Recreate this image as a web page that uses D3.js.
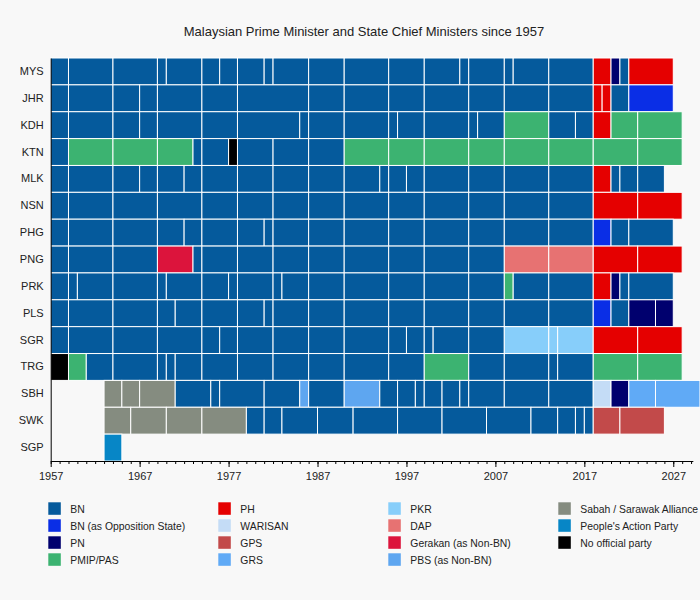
<!DOCTYPE html>
<html>
<head>
<meta charset="utf-8">
<script src="https://cdn.jsdelivr.net/npm/d3@7"></script>
<style>
  body { margin: 0; background: #f8f8f8; }
  text { font-family: "Liberation Sans", Arial, sans-serif; fill: #222; }
</style>
</head>
<body>
<div id="chart"></div>
<script>
// states, top to bottom
var states = ["MYS", "JHR", "KDH", "KTN", "MLK", "NSN", "PHG", "PNG", "PRK", "PLS", "SGR", "TRG", "SBH", "SWK", "SGP"];

// parties + colours (legend order, column by column)
var parties = ["BN", "BN (as Opposition State)", "PN", "PMIP/PAS",
               "PH", "WARISAN", "GPS", "GRS",
               "PKR", "DAP", "Gerakan (as Non-BN)", "PBS (as Non-BN)",
               "Sabah / Sarawak Alliance", "People's Action Party", "No official party"];
var partyColors = ["#055a9c", "#0a2ee6", "#00006e", "#3cb371",
                   "#e50000", "#c4dcf6", "#c24a4a", "#60aaf6",
                   "#87cefa", "#e77272", "#dc143c", "#5ea6f0",
                   "#858c80", "#0786c6", "#000000"];

// terms: [start, end, party]
var MYS = [[1957,1959,"BN"],[1959,1964,"BN"],[1964,1969,"BN"],[1969,1970,"BN"],[1970,1974,"BN"],[1974,1976,"BN"],
  [1976,1978,"BN"],[1978,1981,"BN"],[1981,1982,"BN"],[1982,1986,"BN"],[1986,1990,"BN"],[1990,1995,"BN"],
  [1995,1999,"BN"],[1999,2003,"BN"],[2003,2004,"BN"],[2004,2008,"BN"],[2008,2009,"BN"],[2009,2013,"BN"],
  [2013,2018,"BN"],[2018,2020,"PH"],[2020,2021,"PN"],[2021,2022,"BN"],[2022,2027,"PH"]];
var JHR = [[1957,1959,"BN"],[1959,1964,"BN"],[1964,1967,"BN"],[1967,1969,"BN"],[1969,1974,"BN"],[1974,1978,"BN"],
  [1978,1986,"BN"],[1986,1990,"BN"],[1990,1995,"BN"],[1995,1999,"BN"],[1999,2004,"BN"],[2004,2008,"BN"],
  [2008,2013,"BN"],[2013,2018,"BN"],[2018,2019,"PH"],[2019,2020,"PH"],[2020,2022,"BN"],[2022,2027,"BN (as Opposition State)"]];
var KDH = [[1957,1959,"BN"],[1959,1964,"BN"],[1964,1967,"BN"],[1967,1969,"BN"],[1969,1974,"BN"],[1974,1978,"BN"],
  [1978,1985,"BN"],[1985,1986,"BN"],[1986,1990,"BN"],[1990,1995,"BN"],[1995,1996,"BN"],[1996,1999,"BN"],
  [1999,2004,"BN"],[2004,2005,"BN"],[2005,2008,"BN"],[2008,2013,"PMIP/PAS"],[2013,2016,"BN"],[2016,2018,"BN"],
  [2018,2020,"PH"],[2020,2023,"PMIP/PAS"],[2023,2028,"PMIP/PAS"]];
var KTN = [[1957,1959,"BN"],[1959,1964,"PMIP/PAS"],[1964,1969,"PMIP/PAS"],[1969,1973,"PMIP/PAS"],[1973,1974,"BN"],
  [1974,1977,"BN"],[1977,1978,"No official party"],[1978,1982,"BN"],[1982,1986,"BN"],[1986,1990,"BN"],
  [1990,1995,"PMIP/PAS"],[1995,1999,"PMIP/PAS"],[1999,2004,"PMIP/PAS"],[2004,2008,"PMIP/PAS"],[2008,2013,"PMIP/PAS"],
  [2013,2018,"PMIP/PAS"],[2018,2023,"PMIP/PAS"],[2023,2028,"PMIP/PAS"]];
var MLK = [[1957,1959,"BN"],[1959,1964,"BN"],[1964,1967,"BN"],[1967,1969,"BN"],[1969,1972,"BN"],[1972,1974,"BN"],
  [1974,1978,"BN"],[1978,1982,"BN"],[1982,1986,"BN"],[1986,1990,"BN"],[1990,1994,"BN"],[1994,1995,"BN"],
  [1995,1997,"BN"],[1997,1999,"BN"],[1999,2004,"BN"],[2004,2008,"BN"],[2008,2013,"BN"],[2013,2018,"BN"],
  [2018,2020,"PH"],[2020,2021,"BN"],[2021,2023,"BN"],[2023,2026,"BN"]];
var NSN = [[1957,1959,"BN"],[1959,1964,"BN"],[1964,1969,"BN"],[1969,1974,"BN"],[1974,1978,"BN"],[1978,1982,"BN"],
  [1982,1986,"BN"],[1986,1990,"BN"],[1990,1995,"BN"],[1995,1999,"BN"],[1999,2004,"BN"],[2004,2008,"BN"],
  [2008,2013,"BN"],[2013,2018,"BN"],[2018,2023,"PH"],[2023,2028,"PH"]];
var PHG = [[1957,1959,"BN"],[1959,1964,"BN"],[1964,1969,"BN"],[1969,1972,"BN"],[1972,1974,"BN"],[1974,1978,"BN"],
  [1978,1981,"BN"],[1981,1982,"BN"],[1982,1986,"BN"],[1986,1990,"BN"],[1990,1995,"BN"],[1995,1999,"BN"],
  [1999,2004,"BN"],[2004,2008,"BN"],[2008,2013,"BN"],[2013,2018,"BN"],[2018,2020,"BN (as Opposition State)"],
  [2020,2022,"BN"],[2022,2027,"BN"]];
var PNG = [[1957,1959,"BN"],[1959,1964,"BN"],[1964,1969,"BN"],[1969,1973,"Gerakan (as Non-BN)"],[1973,1974,"BN"],
  [1974,1978,"BN"],[1978,1982,"BN"],[1982,1986,"BN"],[1986,1990,"BN"],[1990,1995,"BN"],[1995,1999,"BN"],
  [1999,2004,"BN"],[2004,2008,"BN"],[2008,2013,"DAP"],[2013,2018,"DAP"],[2018,2023,"PH"],[2023,2028,"PH"]];
var PRK = [[1957,1959,"BN"],[1959,1960,"BN"],[1960,1964,"BN"],[1964,1969,"BN"],[1969,1970,"BN"],[1970,1974,"BN"],
  [1974,1977,"BN"],[1977,1978,"BN"],[1978,1982,"BN"],[1982,1983,"BN"],[1983,1986,"BN"],[1986,1990,"BN"],
  [1990,1995,"BN"],[1995,1999,"BN"],[1999,2004,"BN"],[2004,2008,"BN"],[2008,2009,"PMIP/PAS"],[2009,2013,"BN"],
  [2013,2018,"BN"],[2018,2020,"PH"],[2020,2021,"PN"],[2021,2022,"BN"],[2022,2027,"BN"]];
var PLS = [[1957,1959,"BN"],[1959,1964,"BN"],[1964,1969,"BN"],[1969,1971,"BN"],[1971,1974,"BN"],[1974,1978,"BN"],
  [1978,1981,"BN"],[1981,1982,"BN"],[1982,1986,"BN"],[1986,1990,"BN"],[1990,1995,"BN"],[1995,1999,"BN"],
  [1999,2004,"BN"],[2004,2008,"BN"],[2008,2013,"BN"],[2013,2018,"BN"],[2018,2020,"BN (as Opposition State)"],
  [2020,2022,"BN"],[2022,2025,"PN"],[2025,2027,"PN"]];
var SGR = [[1957,1959,"BN"],[1959,1964,"BN"],[1964,1969,"BN"],[1969,1974,"BN"],[1974,1976,"BN"],[1976,1978,"BN"],
  [1978,1982,"BN"],[1982,1986,"BN"],[1986,1990,"BN"],[1990,1995,"BN"],[1995,1997,"BN"],[1997,1999,"BN"],
  [1999,2000,"BN"],[2000,2004,"BN"],[2004,2008,"BN"],[2008,2013,"PKR"],[2013,2014,"PKR"],[2014,2018,"PKR"],
  [2018,2023,"PH"],[2023,2028,"PH"]];
var TRG = [[1957,1959,"No official party"],[1959,1961,"PMIP/PAS"],[1961,1964,"BN"],[1964,1969,"BN"],[1969,1970,"BN"],
  [1970,1971,"BN"],[1971,1974,"BN"],[1974,1978,"BN"],[1978,1982,"BN"],[1982,1986,"BN"],[1986,1990,"BN"],
  [1990,1995,"BN"],[1995,1999,"BN"],[1999,2004,"PMIP/PAS"],[2004,2008,"BN"],[2008,2013,"BN"],[2013,2014,"BN"],
  [2014,2018,"BN"],[2018,2023,"PMIP/PAS"],[2023,2028,"PMIP/PAS"]];
var SBH = [[1963,1965,"Sabah / Sarawak Alliance"],[1965,1967,"Sabah / Sarawak Alliance"],[1967,1971,"Sabah / Sarawak Alliance"],
  [1971,1975,"BN"],[1975,1976,"BN"],[1976,1981,"BN"],[1981,1985,"BN"],[1985,1986,"PBS (as Non-BN)"],[1986,1990,"BN"],
  [1990,1994,"PBS (as Non-BN)"],[1994,1996,"BN"],[1996,1998,"BN"],[1998,1999,"BN"],[1999,2001,"BN"],[2001,2003,"BN"],
  [2003,2004,"BN"],[2004,2008,"BN"],[2008,2013,"BN"],[2013,2018,"BN"],[2018,2020,"WARISAN"],[2020,2022,"PN"],
  [2022,2025,"GRS"],[2025,2030,"GRS"]];
var SWK = [[1963,1966,"Sabah / Sarawak Alliance"],[1966,1970,"Sabah / Sarawak Alliance"],[1970,1974,"Sabah / Sarawak Alliance"],
  [1974,1979,"Sabah / Sarawak Alliance"],[1979,1981,"BN"],[1981,1983,"BN"],[1983,1987,"BN"],[1987,1991,"BN"],
  [1991,1996,"BN"],[1996,2001,"BN"],[2001,2006,"BN"],[2006,2011,"BN"],[2011,2014,"BN"],[2014,2016,"BN"],
  [2016,2017,"BN"],[2017,2018,"BN"],[2018,2021,"GPS"],[2021,2026,"GPS"]];
var SGP = [[1963,1965,"People's Action Party"]];

var terms = {MYS: MYS, JHR: JHR, KDH: KDH, KTN: KTN, MLK: MLK, NSN: NSN, PHG: PHG, PNG: PNG, PRK: PRK,
             PLS: PLS, SGR: SGR, TRG: TRG, SBH: SBH, SWK: SWK, SGP: SGP};

var xTicks = [1957, 1967, 1977, 1987, 1997, 2007, 2017, 2027];

var width = 700, height = 600;
var margin = {top: 58, right: 8, bottom: 139, left: 50.7};

var svg = d3.select("#chart").append("svg")
  .attr("width", width)
  .attr("height", height);

svg.append("rect").attr("width", width).attr("height", height).attr("fill", "#f8f8f8");

var x = d3.scaleLinear()
  .domain([1957, 2029.2])
  .range([margin.left, margin.left + 72.2 * 8.894]);

var y = d3.scaleBand()
  .domain(states)
  .range([margin.top, height - margin.bottom])
  .padding(0);

var color = d3.scaleOrdinal().domain(parties).range(partyColors);

// flatten terms into rows
var rows = [];
states.forEach(function(s) {
  terms[s].forEach(function(t) {
    rows.push({state: s, start: t[0], end: t[1], party: t[2]});
  });
});

svg.append("g").selectAll("rect")
  .data(rows)
  .enter().append("rect")
  .attr("x", function(d) { return x(d.start); })
  .attr("y", function(d) { return y(d.state); })
  .attr("width", function(d) { return x(d.end) - x(d.start); })
  .attr("height", y.bandwidth())
  .attr("fill", function(d) { return color(d.party); })
  .attr("stroke", "#fff")
  .attr("stroke-width", 1);

// x axis: yearly minor ticks, labelled every 10 years
var xAxisG = svg.append("g")
  .attr("transform", "translate(0," + (height - margin.bottom) + ")");
xAxisG.call(d3.axisBottom(x).tickValues(d3.range(1957, 2030)).tickSize(3).tickFormat(""))
  .call(function(g) { g.select(".domain").remove(); });
var xMajor = svg.append("g")
  .attr("transform", "translate(0," + (height - margin.bottom) + ")")
  .call(d3.axisBottom(x).tickValues(xTicks).tickSize(6).tickSizeOuter(0).tickFormat(d3.format("d")));
xMajor.selectAll("text").attr("font-size", 11).attr("dy", "0.9em")
  .style("font-family", "'Liberation Sans', Arial, sans-serif").attr("fill", "#222");

// y axis
var yAxis = svg.append("g")
  .attr("transform", "translate(" + margin.left + ",0)")
  .call(d3.axisLeft(y).tickSize(0).tickPadding(7).tickSizeOuter(0));
yAxis.selectAll("text").attr("font-size", 11)
  .style("font-family", "'Liberation Sans', Arial, sans-serif").attr("fill", "#222");

// title
svg.append("text")
  .attr("x", 364)
  .attr("y", 36)
  .attr("text-anchor", "middle")
  .attr("font-size", 13)
  .text("Malaysian Prime Minister and State Chief Ministers since 1957");

// legend, 4 columns
var legend = svg.append("g").selectAll("g")
  .data(parties)
  .enter().append("g")
  .attr("transform", function(d, i) {
    return "translate(" + (48.3 + Math.floor(i / 4) * 170) + "," + (502.3 + (i % 4) * 17) + ")";
  });
legend.append("rect")
  .attr("width", 12.5)
  .attr("height", 12.5)
  .attr("fill", function(d) { return color(d); });
legend.append("text")
  .attr("x", 22)
  .attr("y", 10.5)
  .attr("font-size", 10.4)
  .text(function(d) { return d; });
</script>
</body>
</html>
